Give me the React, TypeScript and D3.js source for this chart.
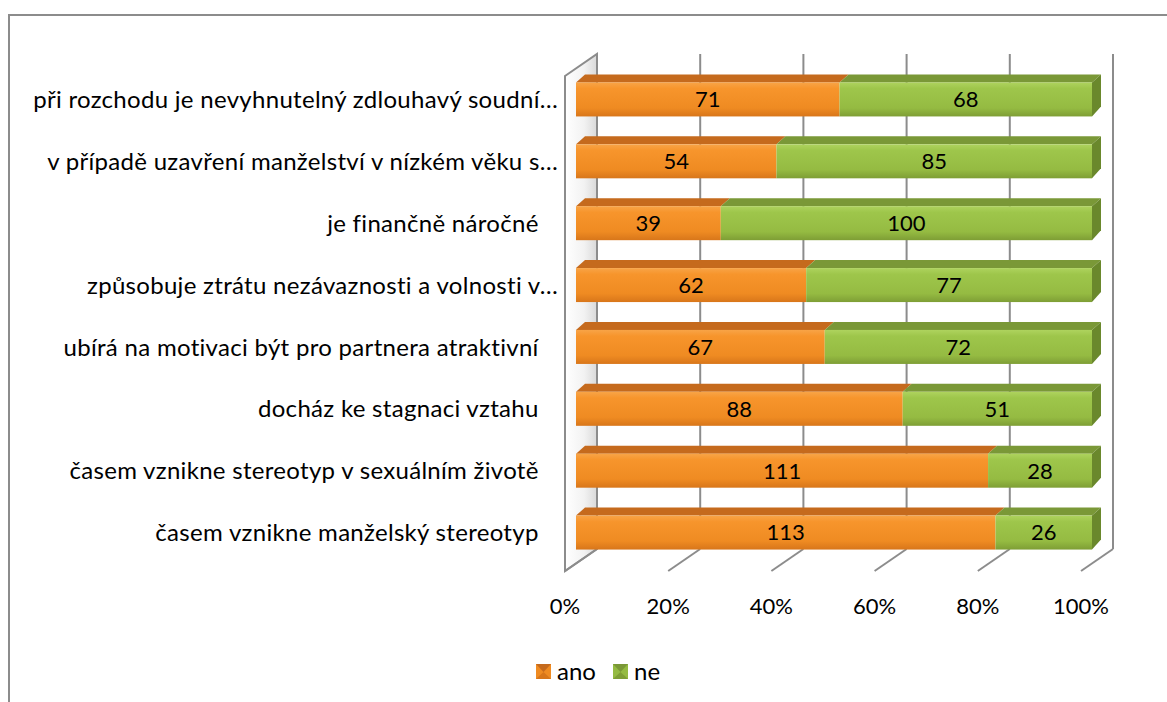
import React from "react";
import * as d3 from "d3";

const categories = [
  "při rozchodu je nevyhnutelný zdlouhavý soudní…",
  "v případě uzavření manželství v nízkém věku s…",
  "je finančně náročné   ",
  "způsobuje ztrátu nezávaznosti a volnosti v…",
  "ubírá na motivaci být pro partnera atraktivní   ",
  "docház ke stagnaci vztahu   ",
  "časem vznikne stereotyp v sexuálním životě   ",
  "časem vznikne manželský stereotyp   ",
];
const ano = [71, 54, 39, 62, 67, 88, 111, 113];
const ne = [68, 85, 100, 77, 72, 51, 28, 26];
const tickValues = [0, 0.2, 0.4, 0.6, 0.8, 1];
const seriesNames = ["ano", "ne"];

const W = 1167;
const H = 702;
const FONT = "Lato, 'Open Sans', sans-serif";

// 3D geometry
const frontLeft = 565, frontRight = 1081, frontTop = 76, frontBottom = 571;
const depthX = 32, depthY = -22;
const barOffX = 11, barOffY = -7.5;
const barDX = 9, barDY = -8;
const barH = 34;

const x = d3.scaleLinear().domain([0, 1]).range([frontLeft, frontRight]);
const y = d3.scaleBand<string>().domain(categories).range([frontTop, frontBottom]);

const colors = {
  ano: { top: "#C56A1D", side: "#B8611A", g: ["#F8A447", "#F7952C", "#EF8B22", "#D8761A"] },
  ne: { top: "#7A9837", side: "#6A882C", g: ["#AED35E", "#9EC64B", "#95BB42", "#7E9E35"] },
};

export default function App() {
  const pct = d3.format(".0%");
  return (
    <svg
      width={W}
      height={H}
      style={{ position: "fixed", left: 0, top: 0, background: "#fff" }}
      fontFamily={FONT}
    >
      <defs>
        {seriesNames.map((s) => {
          const c = (colors as any)[s];
          return (
            <linearGradient key={s} id={`g-${s}`} x1="0" y1="0" x2="0" y2="1">
              <stop offset="0%" stopColor={c.g[0]} />
              <stop offset="18%" stopColor={c.g[1]} />
              <stop offset="75%" stopColor={c.g[2]} />
              <stop offset="100%" stopColor={c.g[3]} />
            </linearGradient>
          );
        })}
        <linearGradient id="wall" x1="0" y1="0" x2="1" y2="0">
          <stop offset="0%" stopColor="#ffffff" />
          <stop offset="60%" stopColor="#f2f2f2" />
          <stop offset="100%" stopColor="#d9d9d9" />
        </linearGradient>
      </defs>

      {/* chart border */}
      <line x1={9} y1={15} x2={W} y2={15} stroke="#8c8c8c" strokeWidth={2} />
      <line x1={9} y1={14} x2={9} y2={H} stroke="#8c8c8c" strokeWidth={2} />

      {/* left wall */}
      <polygon
        points={`${frontLeft},${frontTop} ${frontLeft + depthX},${frontTop + depthY} ${frontLeft + depthX},${frontBottom + depthY} ${frontLeft},${frontBottom}`}
        fill="url(#wall)"
        stroke="#8c8c8c"
        strokeWidth={2}
      />

      {/* gridlines on back wall and floor */}
      {tickValues.map((t) => (
        <g key={t}>
          <line
            x1={x(t) + depthX}
            x2={x(t) + depthX}
            y1={frontTop + depthY}
            y2={frontBottom + depthY}
            stroke="#8c8c8c"
            strokeWidth={2}
          />
          <line
            x1={x(t) + depthX}
            x2={x(t)}
            y1={frontBottom + depthY}
            y2={frontBottom}
            stroke="#8c8c8c"
            strokeWidth={2}
          />
        </g>
      ))}

      {/* bars */}
      {categories.map((cat, i) => {
        const total = ano[i] + ne[i];
        const vals = [ano[i], ne[i]];
        const yc = (y(cat) as number) + y.bandwidth() / 2 + barOffY;
        const yt = yc - barH / 2;
        let acc = 0;
        return (
          <g key={cat}>
            {vals.map((v, k) => {
              const s = seriesNames[k];
              const c = (colors as any)[s];
              const x0 = x(acc / total) + barOffX;
              acc += v;
              const x1 = x(acc / total) + barOffX;
              const last = k === vals.length - 1;
              return (
                <g key={s}>
                  <polygon
                    points={`${x0},${yt} ${x1},${yt} ${x1 + barDX},${yt + barDY} ${x0 + barDX},${yt + barDY}`}
                    fill={c.top}
                  />
                  {last && (
                    <polygon
                      points={`${x1},${yt} ${x1 + barDX},${yt + barDY} ${x1 + barDX},${yt + barH + barDY - 2} ${x1},${yt + barH}`}
                      fill={c.side}
                    />
                  )}
                  <rect x={x0} y={yt} width={x1 - x0} height={barH} fill={`url(#g-${s})`} />
                  <text
                    x={(x0 + x1) / 2}
                    y={yc}
                    dy="0.36em"
                    textAnchor="middle"
                    fontSize={22}
                    fill="#000"
                  >
                    {v}
                  </text>
                </g>
              );
            })}
          </g>
        );
      })}

      {/* category labels */}
      {categories.map((cat) => (
        <text
          key={cat}
          x={558}
          y={(y(cat) as number) + y.bandwidth() / 2 + barOffY}
          dy="0.36em"
          textAnchor="end"
          fontSize={24}
          letterSpacing={0.3}
          fill="#000"
          style={{ whiteSpace: "pre" }}
        >
          {cat}
        </text>
      ))}

      {/* x tick labels */}
      {tickValues.map((t) => (
        <text key={t} x={x(t)} y={606} dy="0.36em" textAnchor="middle" fontSize={22} fill="#000">
          {pct(t)}
        </text>
      ))}

      {/* legend */}
      {seriesNames.map((s, k) => {
        const c = (colors as any)[s];
        const lx = 536 + k * 77;
        const ly = 664;
        return (
          <g key={s}>
            <rect x={lx} y={ly} width={15} height={15} fill={c.g[2]} />
            <polygon points={`${lx},${ly} ${lx + 15},${ly} ${lx + 7.5},${ly + 8}`} fill={c.top} />
            <polygon points={`${lx},${ly + 15} ${lx + 15},${ly + 15} ${lx + 7.5},${ly + 8}`} fill={c.g[3]} />
            <text x={lx + 21} y={ly + 7.5} dy="0.36em" fontSize={24} fill="#000">
              {s}
            </text>
          </g>
        );
      })}
    </svg>
  );
}
